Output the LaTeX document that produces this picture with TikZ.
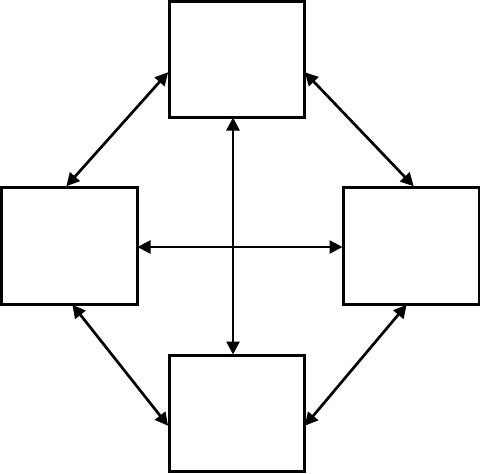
\documentclass[tikz,border=0pt]{standalone}
\usetikzlibrary{arrows.meta}
\begin{document}
\begin{tikzpicture}[x=1pt,y=-1pt,
  box/.style={draw=black,line width=3pt,minimum width=135pt,minimum height=116pt,inner sep=0pt},
  link/.style={line width=2.7pt,{Triangle[length=13pt,width=13pt]}-{Triangle[length=13pt,width=13pt]},shorten <=-1pt,shorten >=-1pt}]
\useasboundingbox (0,0) rectangle (480,474);
\node[box] (top) at (236.5,59) {};
\node[box,minimum width=136pt,minimum height=117pt] (left) at (69,245.5) {};
\node[box,minimum width=136pt,minimum height=117pt] (right) at (411,245.5) {};
\node[box] (bottom) at (236.5,413) {};
\draw[link] ([yshift=-14pt]top.west) -- ([xshift=-2pt]left.north);
\draw[link] ([yshift=-14pt]top.east) -- ([xshift=2pt]right.north);
\draw[link] ([xshift=4pt]left.south) -- ([yshift=-12pt]bottom.west);
\draw[link] ([xshift=-5pt]right.south) -- ([yshift=-12pt]bottom.east);
\draw[link] ([xshift=-3.5pt]top.south) -- ([xshift=-3.5pt]bottom.north);
\draw[link] ([yshift=-1.5pt]left.east) -- ([yshift=-1.5pt]right.west);
\end{tikzpicture}
\end{document}
